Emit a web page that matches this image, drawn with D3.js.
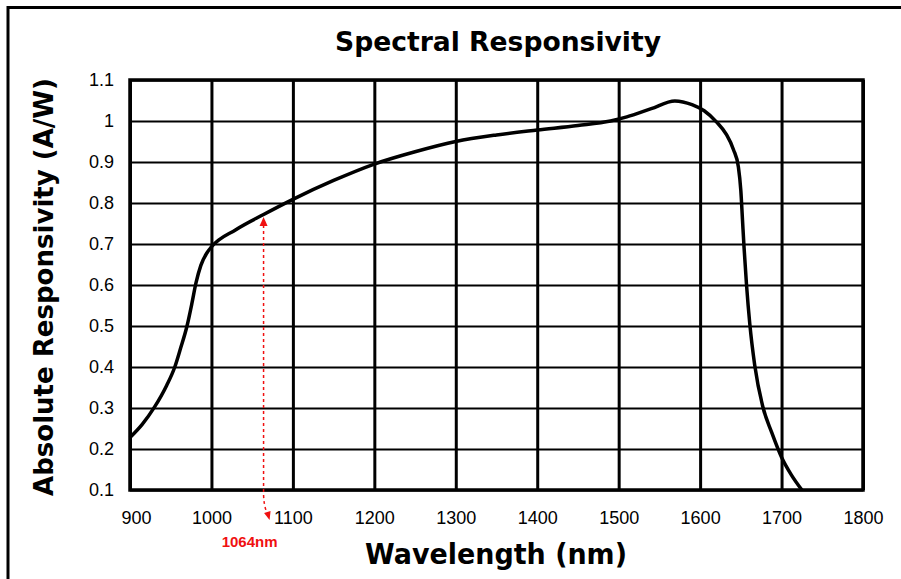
<!DOCTYPE html>
<html>
<head>
<meta charset="utf-8">
<script src="https://cdn.jsdelivr.net/npm/d3@7"></script>
<style>
  body { margin: 0; background: #fff; }
  svg { display: block; }
</style>
</head>
<body>
<div id="chart"></div>
<script>
// wavelength (nm) and responsivity (A/W)
var wavelengths = [900, 915, 930, 945, 955, 962, 970, 976, 981, 987, 995, 1000, 1030, 1064, 1100,
  1150, 1200, 1250, 1300, 1350, 1400, 1450, 1490, 1510, 1540, 1569, 1590, 1605, 1620, 1632,
  1641, 1647, 1650, 1652, 1654, 1657, 1661, 1667, 1677, 1688, 1700, 1712, 1725];
var responsivity = [0.228, 0.260, 0.302, 0.355, 0.400, 0.445, 0.500, 0.555, 0.605, 0.648, 0.680, 0.693, 0.735, 0.772, 0.809,
  0.855, 0.895, 0.925, 0.950, 0.966, 0.978, 0.989, 1.000, 1.010, 1.030, 1.049, 1.040, 1.025, 0.998, 0.968,
  0.930, 0.888, 0.830, 0.760, 0.690, 0.600, 0.505, 0.405, 0.303, 0.240, 0.180, 0.137, 0.100];

var xTicks = [900, 1000, 1100, 1200, 1300, 1400, 1500, 1600, 1700, 1800];
var yTicks = [0.1, 0.2, 0.3, 0.4, 0.5, 0.6, 0.7, 0.8, 0.9, 1.0, 1.1];
var yTickLabels = ["0.1", "0.2", "0.3", "0.4", "0.5", "0.6", "0.7", "0.8", "0.9", "1", "1.1"];

var markWavelength = 1064,
    markValue = 0.766,
    markLabel = "1064nm";

var W = 901, H = 579;
var margin = {top: 80, right: 38, bottom: 89, left: 130};
var width = W - margin.left - margin.right,
    height = H - margin.top - margin.bottom;

var svg = d3.select("#chart").append("svg")
  .attr("width", W)
  .attr("height", H);

// scanned page frame (left and top edges)
svg.append("path")
  .attr("d", "M8,579 L8,7.5 L901,7.5")
  .attr("fill", "none")
  .attr("stroke", "#000")
  .attr("stroke-width", 3);

var x = d3.scaleLinear().domain([900, 1800]).range([0, width]),
    y = d3.scaleLinear().domain([0.1, 1.1]).range([height, 0]);

var g = svg.append("g")
  .attr("transform", "translate(" + margin.left + "," + margin.top + ")");

var xAxis = g.append("g")
  .attr("class", "axis axis--x")
  .attr("transform", "translate(0," + height + ")")
  .call(d3.axisBottom(x).tickValues(xTicks).tickSize(-height).tickPadding(21).tickFormat(d3.format("d")));

xAxis.select(".domain").remove();
xAxis.selectAll("line").attr("stroke", "#000").attr("stroke-width", 3);
xAxis.selectAll("text")
  .attr("font-family", "Liberation Sans, Arial, sans-serif")
  .attr("font-size", 18)
  .attr("fill", "#000")
  .attr("dx", function(d) { return d == 900 ? 6 : 0; });

var yAxis = g.append("g")
  .attr("class", "axis axis--y")
  .call(d3.axisLeft(y).tickValues(yTicks).tickSize(-width).tickPadding(16)
    .tickFormat(function(d, i) { return yTickLabels[i]; }));

yAxis.select(".domain").remove();
yAxis.selectAll("line").attr("stroke", "#000").attr("stroke-width", 2);
yAxis.selectAll("text")
  .attr("font-family", "Liberation Sans, Arial, sans-serif")
  .attr("font-size", 18)
  .attr("fill", "#000");

// plot border
g.append("rect")
  .attr("width", width)
  .attr("height", height)
  .attr("fill", "none")
  .attr("stroke", "#000")
  .attr("stroke-width", 3.5);

var data = wavelengths.map(function(w, i) {
  return {w: w, v: responsivity[i]};
});

var line = d3.line()
  .curve(d3.curveMonotoneX)
  .x(function(d) { return x(d.w); })
  .y(function(d) { return y(d.v); });

g.append("path")
  .datum(data)
  .attr("class", "line")
  .attr("fill", "none")
  .attr("stroke", "#000")
  .attr("stroke-width", 3.5)
  .attr("stroke-linejoin", "round")
  .attr("d", line);

// 1064nm marker
var red = "#f01010";
var mx = x(markWavelength),
    my = y(markValue),
    bottom = height;

g.append("path")
  .attr("d", "M" + mx + "," + (my + 8) +
    " L" + mx + "," + (bottom + 3) +
    " Q" + mx + "," + (bottom + 14) + " " + (mx + 3) + "," + (bottom + 22))
  .attr("fill", "none")
  .attr("stroke", red)
  .attr("stroke-width", 1.5)
  .attr("stroke-dasharray", "3,3");

g.append("path")
  .attr("d", "M" + mx + "," + my + " L" + (mx - 4) + "," + (my + 9) + " L" + (mx + 4) + "," + (my + 9) + "Z")
  .attr("fill", red);

g.append("path")
  .attr("d", "M" + (mx + 6) + "," + (bottom + 30) + " L" + (mx + 0.5) + "," + (bottom + 23) + " L" + (mx + 7) + "," + (bottom + 21) + "Z")
  .attr("fill", red);

g.append("text")
  .attr("x", mx - 14)
  .attr("y", bottom + 57)
  .attr("text-anchor", "middle")
  .attr("font-family", "Liberation Sans, Arial, sans-serif")
  .attr("font-weight", "bold")
  .attr("font-size", 15)
  .attr("fill", red)
  .text(markLabel);

// titles
svg.append("text")
  .attr("x", 498)
  .attr("y", 51)
  .attr("text-anchor", "middle")
  .attr("font-family", "DejaVu Sans, sans-serif")
  .attr("font-weight", "bold")
  .attr("font-size", 26)
  .attr("textLength", 326)
  .attr("lengthAdjust", "spacingAndGlyphs")
  .text("Spectral Responsivity");

svg.append("text")
  .attr("x", 496)
  .attr("y", 564)
  .attr("text-anchor", "middle")
  .attr("font-family", "DejaVu Sans, sans-serif")
  .attr("font-weight", "bold")
  .attr("font-size", 29)
  .attr("textLength", 262)
  .attr("lengthAdjust", "spacingAndGlyphs")
  .text("Wavelength (nm)");

svg.append("text")
  .attr("transform", "translate(53,287) rotate(-90)")
  .attr("text-anchor", "middle")
  .attr("font-family", "DejaVu Sans, sans-serif")
  .attr("font-weight", "bold")
  .attr("font-size", 27)
  .attr("textLength", 418)
  .attr("lengthAdjust", "spacingAndGlyphs")
  .text("Absolute Responsivity (A/W)");
</script>
</body>
</html>
